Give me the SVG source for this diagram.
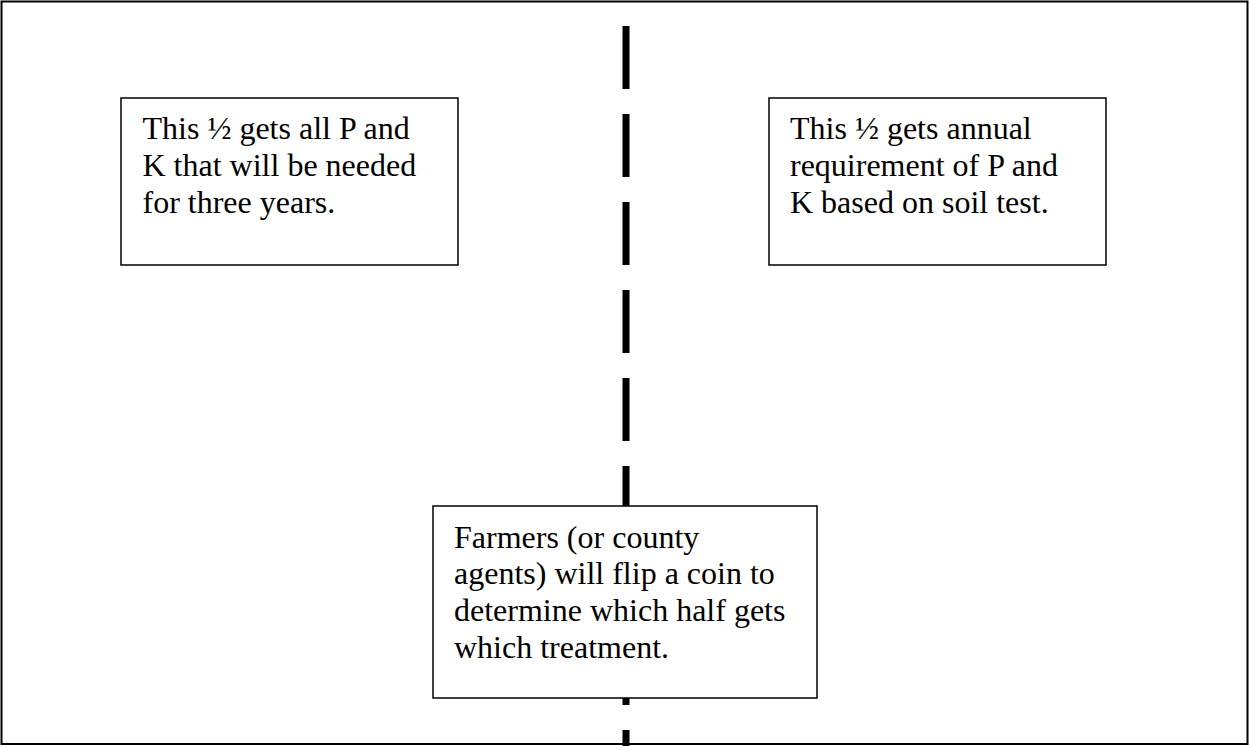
<svg xmlns="http://www.w3.org/2000/svg" width="1249" height="746" viewBox="0 0 1249 746">
  <style>
    .frame { fill: #ffffff; stroke: #000000; stroke-width: 2; }
    .box { fill: #ffffff; stroke: #000000; stroke-width: 1.5; }
    .divider { fill: none; stroke: #000000; stroke-width: 7; stroke-dasharray: 63 25; }
    .label { font-family: "Liberation Serif", "Times New Roman", serif; font-size: 32px; fill: #000000; }
  </style>
  <rect class="frame" x="1.5" y="1.5" width="1246" height="742.5"/>
  <g id="connectors">
    <line class="divider" x1="626" y1="26" x2="626" y2="800"/>
  </g>
  <g id="node-left">
    <rect class="box" x="121" y="98" width="337" height="167"/>
    <text class="label" x="142.5" y="139.2">This ½ gets all P and</text>
    <text class="label" x="142.5" y="175.9">K that will be needed</text>
    <text class="label" x="142.5" y="212.6">for three years.</text>
  </g>
  <g id="node-right">
    <rect class="box" x="769" y="98" width="337" height="167"/>
    <text class="label" x="790" y="139.2">This ½ gets annual</text>
    <text class="label" x="790" y="175.9">requirement of P and</text>
    <text class="label" x="790" y="212.6">K based on soil test.</text>
  </g>
  <g id="node-bottom">
    <rect class="box" x="433" y="506" width="384" height="192"/>
    <text class="label" x="454" y="547.5">Farmers (or county</text>
    <text class="label" x="454" y="584.2">agents) will flip a coin to</text>
    <text class="label" x="454" y="620.9">determine which half gets</text>
    <text class="label" x="454" y="657.6">which treatment.</text>
  </g>
</svg>
